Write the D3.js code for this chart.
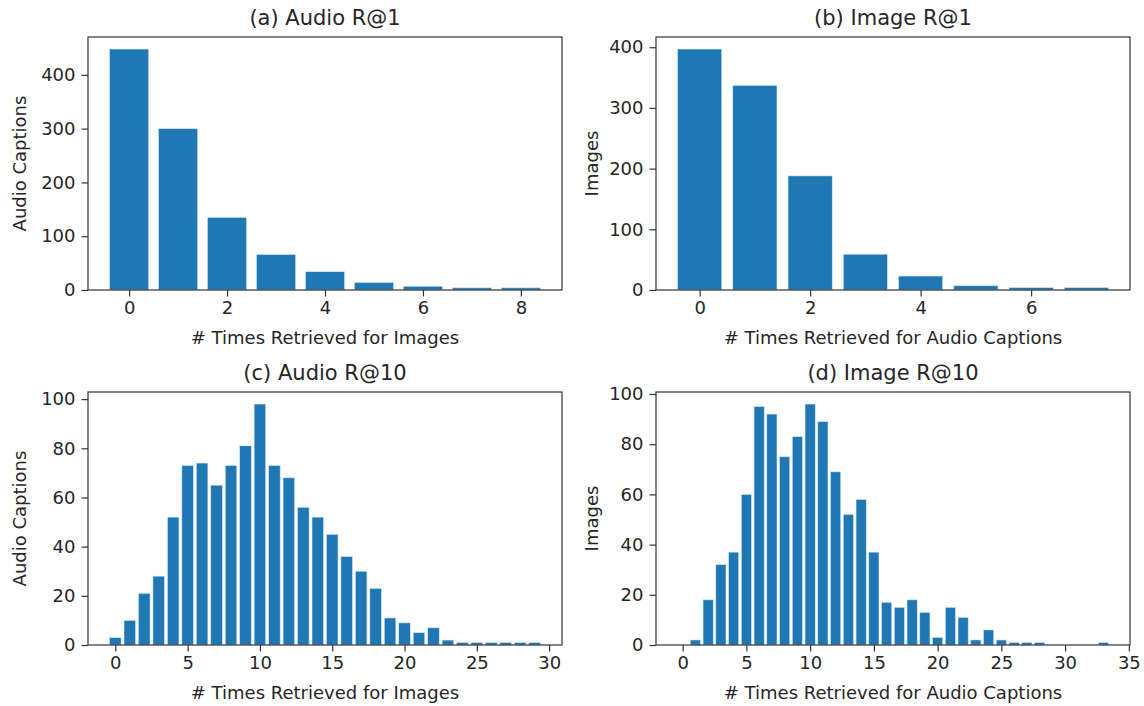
<!DOCTYPE html>
<html>
<head>
<meta charset="utf-8">
<script src="https://cdn.jsdelivr.net/npm/d3@7"></script>
<style>
  html, body { margin: 0; padding: 0; background: #ffffff; }
  svg { display: block; }
  text { font-family: "DejaVu Sans", sans-serif; fill: #262626; }
</style>
</head>
<body>
<svg id="chart" width="1144" height="706"></svg>
<script>
// Retrieval-count histograms: how many captions / images were retrieved N times.
const audioR1Counts  = [0, 1, 2, 3, 4, 5, 6, 7, 8];
const audioR1Values  = [448, 300, 135, 66, 34, 14, 7, 4, 4];

const imageR1Counts  = [0, 1, 2, 3, 4, 5, 6, 7];
const imageR1Values  = [397, 337, 188, 59, 23, 7, 4, 4];

const audioR10Counts = d3.range(0, 30);
const audioR10Values = [3, 10, 21, 28, 52, 73, 74, 65, 73, 81, 98, 73, 68, 56, 52,
                        45, 36, 30, 23, 11, 9, 5, 7, 2, 1, 1, 1, 1, 1, 1];

const imageR10Counts = d3.range(0, 34);
const imageR10Values = [0, 2, 18, 32, 37, 60, 95, 92, 75, 83, 96, 89, 69, 52, 58,
                        37, 17, 15, 18, 13, 3, 15, 11, 2, 6, 2, 1, 1, 1, 0, 0, 0, 0, 1];

const titles  = ["(a) Audio R@1", "(b) Image R@1", "(c) Audio R@10", "(d) Image R@10"];
const xLabels = ["# Times Retrieved for Images", "# Times Retrieved for Audio Captions",
                 "# Times Retrieved for Images", "# Times Retrieved for Audio Captions"];
const yLabels = ["Audio Captions", "Images", "Audio Captions", "Images"];

const xTickSets = [[0, 2, 4, 6, 8], [0, 2, 4, 6], [0, 5, 10, 15, 20, 25, 30], [0, 5, 10, 15, 20, 25, 30, 35]];
const yTickSets = [[0, 100, 200, 300, 400], [0, 100, 200, 300, 400], [0, 20, 40, 60, 80, 100], [0, 20, 40, 60, 80, 100]];

const BAR_COLOR = "#1f77b4";
const BAR_WIDTH = 0.8;
const TICK_FONT = "18px";
const LABEL_FONT = "18px";
const TITLE_FONT = "21px";

const svg = d3.select("#chart");

// Axes rectangles for the 2x2 grid
const cols = [{ left: 88, right: 562 }, { left: 656, right: 1130 }];
const rows = [{ top: 37, bottom: 290 }, { top: 392, bottom: 645 }];

const panels = [
  { counts: audioR1Counts,  values: audioR1Values,  col: 0, row: 0 },
  { counts: imageR1Counts,  values: imageR1Values,  col: 1, row: 0 },
  { counts: audioR10Counts, values: audioR10Values, col: 0, row: 1 },
  { counts: imageR10Counts, values: imageR10Values, col: 1, row: 1 }
];

panels.forEach((p, i) => {
  const c = cols[p.col], r = rows[p.row];
  const w = c.right - c.left, h = r.bottom - r.top;

  // Domains padded the way a plotting library auto-scales bar charts
  const lo = d3.min(p.counts) - BAR_WIDTH / 2, hi = d3.max(p.counts) + BAR_WIDTH / 2;
  const pad = (hi - lo) * 0.05;
  const x = d3.scaleLinear().domain([lo - pad, hi + pad]).range([0, w]);
  const y = d3.scaleLinear().domain([0, d3.max(p.values) * 1.05]).range([h, 0]);

  const g = svg.append("g").attr("transform", `translate(${c.left},${r.top})`);

  const data = p.counts.map((k, j) => ({ k, v: p.values[j] }));
  g.selectAll("rect.bar")
    .data(data.filter(d => d.v > 0))
    .join("rect")
    .attr("class", "bar")
    .attr("x", d => x(d.k - BAR_WIDTH / 2))
    .attr("width", d => x(d.k + BAR_WIDTH / 2) - x(d.k - BAR_WIDTH / 2))
    .attr("y", d => y(d.v))
    .attr("height", d => y(0) - y(d.v))
    .attr("fill", BAR_COLOR)
    .attr("stroke", "#d6e6f3")
    .attr("stroke-width", 0.6);

  const xAxis = d3.axisBottom(x).tickValues(xTickSets[i]).tickSize(6.5).tickPadding(5).tickSizeOuter(0);
  const yAxis = d3.axisLeft(y).tickValues(yTickSets[i]).tickSize(6.5).tickPadding(6).tickSizeOuter(0);

  const gx = g.append("g").attr("transform", `translate(0,${h})`).call(xAxis);
  const gy = g.append("g").call(yAxis);
  [gx, gy].forEach(a => {
    a.select(".domain").remove();
    a.selectAll(".tick line").attr("stroke", "#333").attr("stroke-width", 1.2);
    a.selectAll(".tick text").style("font-size", TICK_FONT).attr("fill", "#262626");
  });

  // Axes frame
  g.append("rect")
    .attr("x", 0).attr("y", 0).attr("width", w).attr("height", h)
    .attr("fill", "none").attr("stroke", "#333").attr("stroke-width", 1.2);

  g.append("text")
    .attr("x", w / 2).attr("y", -12)
    .attr("text-anchor", "middle")
    .style("font-size", TITLE_FONT)
    .text(titles[i]);

  g.append("text")
    .attr("x", w / 2).attr("y", h + 54)
    .attr("text-anchor", "middle")
    .style("font-size", LABEL_FONT)
    .text(xLabels[i]);

  g.append("text")
    .attr("transform", `translate(${p.col === 0 ? -62 : -58},${h / 2}) rotate(-90)`)
    .attr("text-anchor", "middle")
    .style("font-size", LABEL_FONT)
    .text(yLabels[i]);
});
</script>
</body>
</html>
